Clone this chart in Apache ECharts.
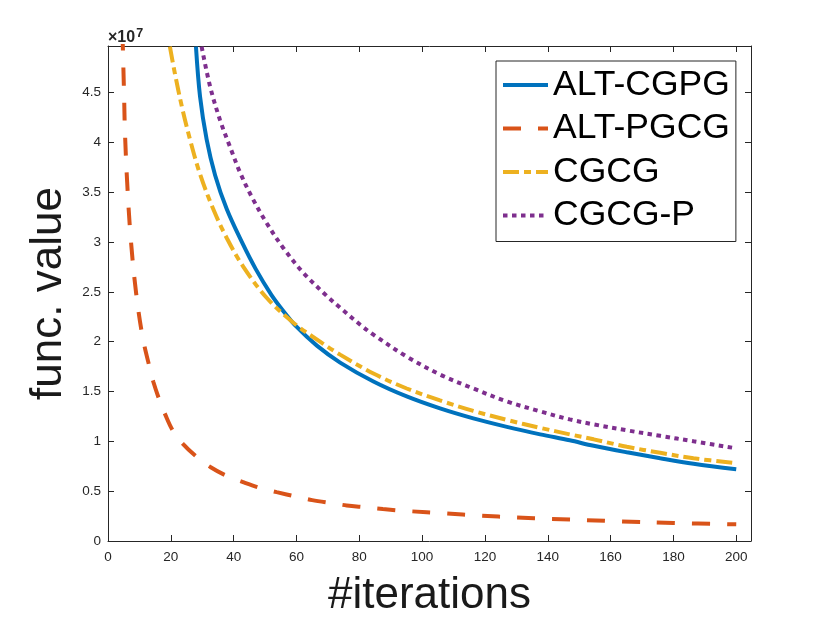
<!DOCTYPE html>
<html>
<head>
<meta charset="utf-8">
<script src="https://cdn.jsdelivr.net/npm/echarts@6/dist/echarts.min.js"></script>
<style>
  html, body { margin: 0; padding: 0; background: #fff; }
  #chart { width: 830px; height: 623px; }
</style>
</head>
<body>
<div id="chart"></div>
<script>
// values are in units of 1e7 (the axis shows x10^7)
var seriesNames = ['ALT-CGPG', 'ALT-PGCG', 'CGCG', 'CGCG-P'];

var altCgpgX = [28, 29.3, 31.4, 34.1, 37.8, 42.6, 47, 52, 56, 60, 66.5, 73.9, 84.5, 95.1, 105.7, 116.3, 127, 137.6, 147, 154.6, 165.2, 175.8, 186.4, 200];
var altCgpgY = [4.96, 4.46, 4.03, 3.67, 3.33, 3.0, 2.73, 2.47, 2.3, 2.15, 1.96, 1.79, 1.6, 1.45, 1.33, 1.23, 1.145, 1.07, 1.01, 0.955, 0.89, 0.83, 0.775, 0.72];

var altPgcgX = [4.6, 5.1, 5.4, 6.1, 7.2, 8.9, 11, 13.4, 14.4, 16.3, 18.2, 20.6, 24, 28.4, 32.7, 38, 43, 48.6, 53.7, 60, 65, 71, 76, 82, 87.5, 95.6, 107.3, 118.5, 130, 141.3, 163, 180, 200];
var altPgcgY = [5.1, 4.5, 4.1, 3.6, 3.05, 2.5, 2.05, 1.72, 1.6, 1.42, 1.27, 1.11, 0.97, 0.84, 0.74, 0.65, 0.59, 0.53, 0.49, 0.445, 0.41, 0.38, 0.357, 0.338, 0.32, 0.30, 0.277, 0.255, 0.236, 0.222, 0.197, 0.181, 0.167];

var cgcgX = [19.7, 21.3, 23.5, 26.1, 29.3, 33.5, 37.8, 43.1, 50.5, 59, 67.5, 73.9, 84.5, 95.1, 105.7, 116.3, 127, 137.6, 147, 154.6, 165.2, 175.8, 186.4, 200];
var cgcgY = [4.96, 4.69, 4.36, 4.03, 3.68, 3.33, 3.04, 2.75, 2.44, 2.19, 2.0, 1.87, 1.68, 1.53, 1.41, 1.305, 1.215, 1.135, 1.07, 1.02, 0.945, 0.885, 0.83, 0.78];

var cgcgPX = [29.8, 32.5, 35.7, 38.9, 42, 45.8, 50.5, 55.8, 62.2, 69.6, 73.9, 80.3, 84.5, 95.1, 105.7, 116.3, 127, 137.6, 147, 154.6, 165.2, 175.8, 186.4, 200];
var cgcgPY = [4.96, 4.56, 4.22, 3.95, 3.70, 3.45, 3.19, 2.94, 2.69, 2.46, 2.34, 2.17, 2.07, 1.85, 1.67, 1.53, 1.40, 1.30, 1.22, 1.17, 1.11, 1.055, 1.0, 0.93];

var xTicks = [0, 20, 40, 60, 80, 100, 120, 140, 160, 180, 200];
var yTicks = [0, 0.5, 1, 1.5, 2, 2.5, 3, 3.5, 4, 4.5];

var colors = ['#0072BD', '#D95319', '#EDB120', '#7E2F8E'];
var font = '"Liberation Sans", Arial, Helvetica, sans-serif';
var axisColor = '#262626';

function pairs(xs, ys) {
  return xs.map(function (x, i) { return [x, ys[i]]; });
}

var chart = echarts.init(document.getElementById('chart'), null, { renderer: 'canvas' });

var xMin = xTicks[0], xMax = 204.7;
var yMin = yTicks[0], yMax = 4.966;

// shared axis look (MATLAB style box with inward ticks)
var axisLine = { show: true, onZero: false, lineStyle: { color: axisColor, width: 1 } };
var axisTick = { show: true, inside: true, length: 6, lineStyle: { color: axisColor, width: 1 } };

var lineSeries = function (idx, data, dash) {
  return {
    name: seriesNames[idx],
    type: 'line',
    data: data,
    symbol: 'none',
    showSymbol: false,
    clip: true,
    smooth: 0.35,
    xAxisIndex: 0,
    yAxisIndex: 0,
    lineStyle: { color: colors[idx], width: 4, type: dash, cap: 'butt' },
    itemStyle: { color: colors[idx] },
    emphasis: { disabled: true }
  };
};

chart.setOption({
  animation: false,
  backgroundColor: '#fff',
  textStyle: { fontFamily: font },
  grid: { left: 108, right: 79, top: 46, bottom: 79, containLabel: false },
  title: {
    text: '{a|\u00d710}{b|7}',
    left: 108,
    top: 27,
    padding: 0,
    textStyle: {
      rich: {
        a: { fontSize: 16, color: axisColor, fontFamily: font },
        b: { fontSize: 12.5, color: axisColor, fontFamily: font, verticalAlign: 'top', padding: [0, 0, 8, 1] }
      }
    }
  },
  legend: {
    orient: 'vertical',
    left: 496,
    top: 61,
    padding: [6, 6, 8, 5],
    itemWidth: 45,
    itemHeight: 14,
    itemGap: 7.5,
    borderColor: axisColor,
    borderWidth: 1,
    backgroundColor: '#fff',
    selectedMode: false,
    itemStyle: { opacity: 0, borderWidth: 0 },
    lineStyle: { width: 4 },
    textStyle: { fontSize: 35.5, lineHeight: 35.5, color: '#000', fontFamily: font },
    data: seriesNames
  },
  xAxis: [{
    type: 'value',
    position: 'bottom',
    min: xMin,
    max: xMax,
    interval: 20,
    name: '#iterations',
    nameLocation: 'middle',
    nameGap: 33,
    nameTextStyle: { fontSize: 44, color: '#1a1a1a', fontFamily: font },
    axisLine: axisLine,
    axisTick: axisTick,
    splitLine: { show: false },
    axisLabel: { margin: 9, fontSize: 13.5, color: axisColor, fontFamily: font, showMaxLabel: false }
  }, {
    type: 'value',
    position: 'top',
    min: xMin,
    max: xMax,
    interval: 20,
    axisLine: axisLine,
    axisTick: axisTick,
    splitLine: { show: false },
    axisLabel: { show: false }
  }],
  yAxis: [{
    type: 'value',
    position: 'left',
    min: yMin,
    max: yMax,
    interval: 0.5,
    name: 'func. value',
    nameLocation: 'middle',
    nameGap: 26,
    nameTextStyle: { fontSize: 44, color: '#1a1a1a', fontFamily: font },
    axisLine: axisLine,
    axisTick: axisTick,
    splitLine: { show: false },
    axisLabel: { margin: 7, fontSize: 13.5, color: axisColor, fontFamily: font, showMaxLabel: false }
  }, {
    type: 'value',
    position: 'right',
    min: yMin,
    max: yMax,
    interval: 0.5,
    axisLine: axisLine,
    axisTick: axisTick,
    splitLine: { show: false },
    axisLabel: { show: false }
  }],
  series: [
    lineSeries(0, pairs(altCgpgX, altCgpgY), 'solid'),
    lineSeries(1, pairs(altPgcgX, altPgcgY), [18, 17]),
    lineSeries(2, pairs(cgcgX, cgcgY), [16, 5, 7, 5]),
    lineSeries(3, pairs(cgcgPX, cgcgPY), [4.5, 4.5])
  ]
});
</script>
</body>
</html>
